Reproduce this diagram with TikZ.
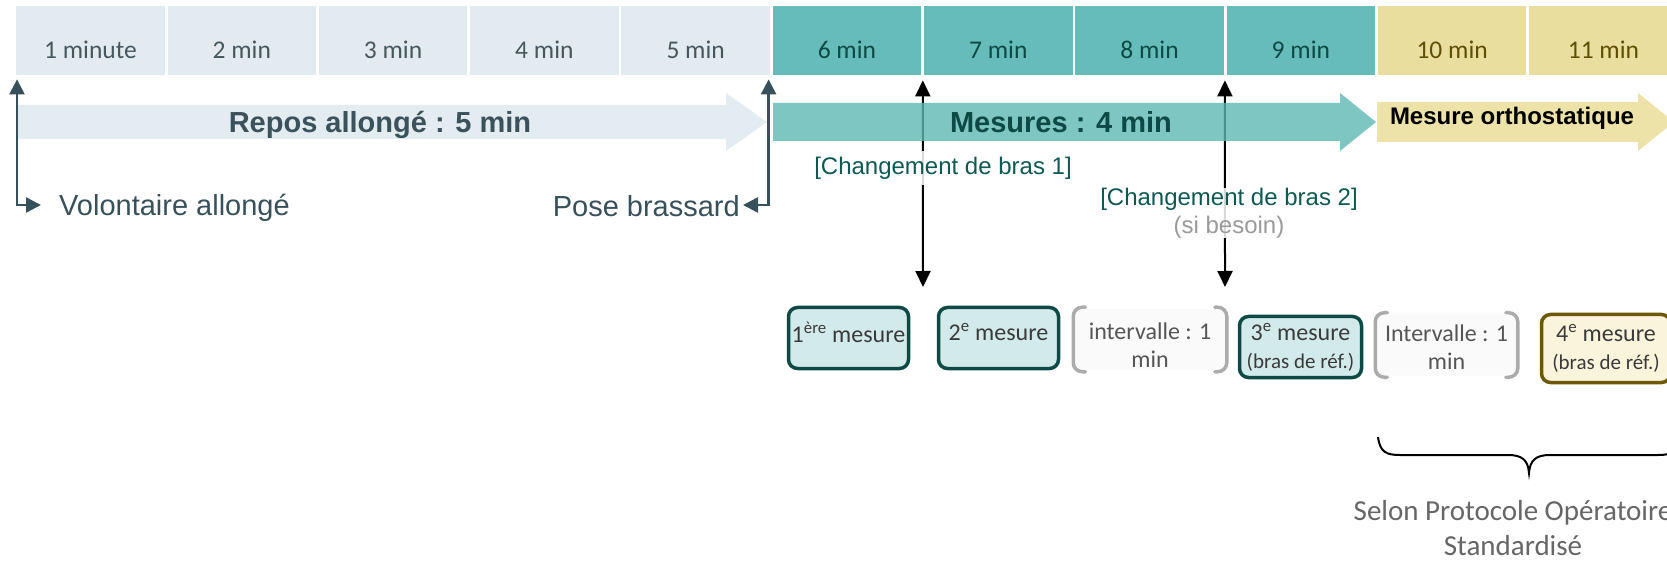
\documentclass[tikz,border=0pt]{standalone}
\usepackage{fontspec}
\setmainfont{Carlito}
\newfontfamily\arialf{Liberation Sans}
\usetikzlibrary{arrows.meta}
\definecolor{cgrey}{HTML}{E2EBF0}
\definecolor{cgreytxt}{HTML}{46575F}
\definecolor{cteal}{HTML}{66BCB9}
\definecolor{darkteal}{HTML}{0E4A45}
\definecolor{ckhaki}{HTML}{EADE9E}
\definecolor{olivetxt}{HTML}{5E4F05}
\definecolor{reposfill}{HTML}{E3ECF0}
\definecolor{repostxt}{HTML}{3B525C}
\definecolor{mesfill}{HTML}{5CB8B3}
\definecolor{orthofill}{HTML}{EDE2A8}
\definecolor{slate}{HTML}{38505A}
\definecolor{labteal}{HTML}{0E5A52}
\definecolor{besoin}{HTML}{9A9A9A}
\definecolor{boxteal}{HTML}{D2EBEA}
\definecolor{boxtxt}{HTML}{3A3A3A}
\definecolor{brkfill}{HTML}{FAFAFA}
\definecolor{brkgrey}{HTML}{ABABAB}
\definecolor{brktxt}{HTML}{555555}
\definecolor{boxcream}{HTML}{FBF4DC}
\definecolor{olive}{HTML}{6B5808}
\definecolor{seltxt}{HTML}{666666}
\newcommand\drawbrackets[1]{%
  \draw[brkline] ([xshift=12bp]#1.north west) -- (#1.north west) -- (#1.south west) -- ([xshift=12bp]#1.south west);
  \draw[brkline] ([xshift=-12bp]#1.north east) -- (#1.north east) -- (#1.south east) -- ([xshift=-12bp]#1.south east);}
\begin{document}
\begin{tikzpicture}[x=1bp,y=-1bp,
  cell/.style={anchor=north west, minimum width=148.5bp, minimum height=69bp, inner sep=0pt,
    text height=35bp, text depth=0pt, font=\fontsize{25.5bp}{30bp}\selectfont},
  gcell/.style={cell, fill=cgrey, text=cgreytxt},
  tcell/.style={cell, fill=cteal, text=darkteal},
  kcell/.style={cell, fill=ckhaki, text=olivetxt},
  bigtxt/.style={font=\arialf\bfseries\fontsize{29bp}{34bp}\selectfont},
  sidetxt/.style={font=\arialf\fontsize{29bp}{34bp}\selectfont, text=slate, inner ysep=0pt},
  slatearr/.style={draw=slate, line width=2.5bp, {Triangle[width=15bp,length=15bp]}-{Triangle[width=15bp,length=15bp]}},
  blackarr/.style={draw=black, line width=2bp, {Triangle[width=15bp,length=16bp]}-{Triangle[width=15bp,length=16bp]}},
  lab/.style={font=\arialf\fontsize{24bp}{28bp}\selectfont, text=labteal, fill=white,
    fill opacity=0.85, text opacity=1, inner xsep=2bp, align=center},
  mbox/.style={rounded corners=9bp, line width=3.5bp, inner sep=0pt, align=center,
    font=\fontsize{24bp}{28bp}\selectfont, text=boxtxt},
  tbox/.style={mbox, draw=darkteal, fill=boxteal},
  obox/.style={mbox, draw=olive, fill=boxcream},
  bbox/.style={mbox, fill=brkfill},
  btxt/.style={align=center, inner sep=0pt, font=\fontsize{24bp}{28bp}\selectfont, text=brktxt},
  brkline/.style={draw=brkgrey, line width=3.5bp, rounded corners=9bp, line cap=round}]
\useasboundingbox (0,0) rectangle (1667,561);
\clip (0,0) rectangle (1667,561);

% top time cells
\node[gcell] (m1) at (16,6) {1 minute};
\node[gcell] (m2) at (167.3,6) {2 min};
\node[gcell] (m3) at (318.6,6) {3 min};
\node[gcell] (m4) at (469.9,6) {4 min};
\node[gcell] (m5) at (621.2,6) {5 min};
\node[tcell] (m6) at (772.5,6) {6 min};
\node[tcell] (m7) at (923.8,6) {7 min};
\node[tcell] (m8) at (1075.1,6) {8 min};
\node[tcell] (m9) at (1226.4,6) {9 min};
\node[kcell] (m10) at (1377.7,6) {10 min};
\node[kcell] (m11) at (1529,6) {11 min};

% phase arrows
\fill[reposfill] (17,105) -- (726,105) -- (726,93) -- (767,122) -- (726,151) -- (726,139) -- (17,139) -- cycle;
\node[bigtxt, text=repostxt] (repos) at (380,125) {Repos allongé : 5 min};

% black change arrows (behind the translucent arrow)
\coordinate (ch1) at (923,287);
\coordinate (ch2) at (1225,287);
\draw[blackarr] ([xshift=-1bp,yshift=-5bp]m7.south west) -- (ch1);
\draw[blackarr] ([xshift=-1.5bp,yshift=-5bp]m9.south west) -- (ch2);

\fill[mesfill, fill opacity=0.8] (773,103) -- (1340,103) -- (1340,93) -- (1376,122) -- (1340,151) -- (1340,141) -- (773,141) -- cycle;
\node[bigtxt, text=darkteal] (mes) at (1061,122) {Mesures : 4 min};
\fill[orthofill] (1377,102) -- (1638,102) -- (1638,93) -- (1674,122) -- (1638,151) -- (1638,142) -- (1377,142) -- cycle;
\node[font=\arialf\bfseries\fontsize{24bp}{28bp}\selectfont, text=black] (ortho) at (1512,118) {Mesure orthostatique};

% side labels with slate connectors
\node[sidetxt, anchor=west, inner xsep=18bp] (vol) at (41,208) {Volontaire allongé};
\node[sidetxt, anchor=east, inner xsep=3bp] (pose) at (743,206) {Pose brassard};
\draw[slatearr] ([xshift=1bp,yshift=-4bp]m1.south west) |- ([yshift=3bp]vol.west);
\draw[slatearr] ([xshift=-1.5bp,yshift=-4bp]m5.south east) |- ([yshift=1bp]pose.east);

% change labels
\node[lab, inner ysep=5.5bp] (cb1) at (943,168) {[Changement de bras 1]};
\node[lab, inner ysep=0pt] (cb2) at (1229,213) {[Changement de bras 2]\\\textcolor{besoin}{(si besoin)}};

% measurement boxes
\node[tbox, minimum width=120bp, minimum height=61bp, text depth=12bp] (b1) at (848.5,338) {1\textsuperscript{ère} mesure};
\node[tbox, minimum width=120bp, minimum height=61bp, text depth=12bp] (b2) at (998.5,338) {2\textsuperscript{e} mesure};
\node[bbox, minimum width=150bp, minimum height=61bp] (b3) at (1150,339.5) {};
\drawbrackets{b3}
\node[btxt] (t3) at ([yshift=-6bp]b3.center) {intervalle : 1\\min};
\node[tbox, minimum width=122bp, minimum height=61bp] (b4) at (1300.5,347) {3\textsuperscript{e} mesure\\{\fontsize{21bp}{28bp}\selectfont (bras de réf.)}};
\node[bbox, minimum width=139bp, minimum height=61bp] (b5) at (1446.5,345) {};
\drawbrackets{b5}
\node[btxt] (t5) at ([yshift=-2bp]b5.center) {Intervalle : 1\\min};
\node[obox, minimum width=129bp, minimum height=68bp] (b6) at (1606,348.5) {4\textsuperscript{e} mesure\\{\fontsize{21bp}{28bp}\selectfont (bras de réf.)}};

% brace and note
\draw[line width=2bp] (1378,437) .. controls (1380,452) and (1386,455) .. (1400,455) -- (1508,455)
  .. controls (1522,455) and (1528,460) .. (1529,473)
  .. controls (1530,460) and (1536,455) .. (1550,455) -- (1658,455)
  .. controls (1672,455) and (1678,452) .. (1680,437);
\node[align=center, inner sep=0pt, text=seltxt, font=\fontsize{29bp}{35bp}\selectfont] (sel) at (1513,528) {Selon Protocole Opératoire\\Standardisé};
\end{tikzpicture}
\end{document}
